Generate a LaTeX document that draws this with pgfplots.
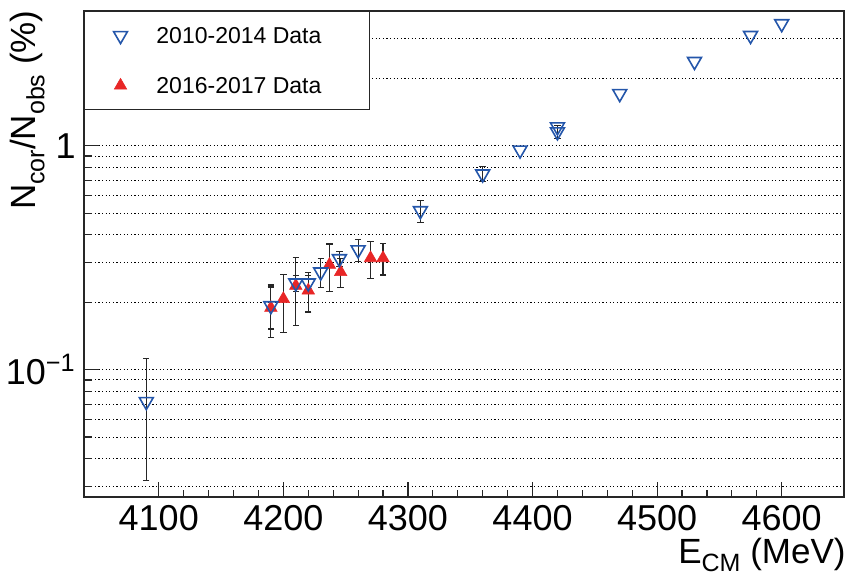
\documentclass[border=0pt]{standalone}
\usepackage{pgfplots}
\pgfplotsset{compat=1.18}
\usepackage{pgfplotstable}
\usepackage{fontspec}
\setmainfont{Liberation Sans}

\definecolor{rootblue}{RGB}{36,86,170}
\definecolor{rootred}{RGB}{232,38,38}

% ROOT-like subscript: smaller and set low
\newcommand{\rsub}[1]{\raisebox{-0.24em}{\fontsize{12.5}{14}\selectfont #1}}

% 2010-2014 data: E (MeV), ratio (%), error
\pgfplotstableread{
E R err
4090 0.072 0.040
4190 0.193 0.041
4210 0.244 0.020
4220 0.244 0.020
4230 0.273 0.040
4245 0.313 0.025
4260 0.343 0.038
4310 0.513 0.058
4360 0.748 0.058
4420 1.154 0.080
}\olddata

% 2010-2014 points whose errors are hidden by the marker
\pgfplotstableread{
E R
4390 0.957
4420 1.215
4470 1.710
4530 2.380
4575 3.110
4600 3.510
}\oldnoerr

% 2016-2017 data
\pgfplotstableread{
E R err
4190 0.189 0.050
4200 0.207 0.060
4210 0.237 0.080
4220 0.226 0.045
4237 0.294 0.070
4246 0.273 0.040
4270 0.315 0.060
4280 0.315 0.050
}\newdata

\begin{document}
\begin{tikzpicture}
\useasboundingbox (0,0) rectangle (424.5pt,287.5pt);
\begin{axis}[
  at={(42pt,39pt)}, anchor=south west,
  scale only axis, width=380pt, height=243pt,
  ymode=log,
  xmin=4040, xmax=4650, ymin=0.027, ymax=4,
  axis line style={line width=0.6pt, black!85},
  tick align=inside, xtick pos=bottom, ytick pos=left,
  xtick={4100,4200,...,4600}, minor x tick num=4,
  ytick={0.1,1}, yticklabels={10\textsuperscript{−1},1},
  minor ytick={0.03,0.04,0.05,0.06,0.07,0.08,0.09,0.2,0.3,0.4,0.5,0.6,0.7,0.8,0.9,2,3,4},
  ymajorgrids, yminorgrids,
  major grid style={black, line width=0.5pt, dash pattern=on 0.55pt off 1.25pt},
  minor grid style={black, line width=0.5pt, dash pattern=on 0.55pt off 1.25pt},
  major tick length=7.5pt, minor tick length=3.75pt,
  tick style={black!85, line width=0.6pt},
  /pgf/number format/assume math mode=true,
  /pgf/number format/1000 sep={},
  ticklabel style={font=\fontsize{18}{21}\selectfont, inner sep=4pt},
  xlabel={E\rsub{CM} (MeV)},
  xlabel style={font=\fontsize{17.5}{20}\selectfont, inner sep=0pt,
    at={(axis description cs:1.0026,-0.1358)}, anchor=base east},
  ylabel={N\rsub{cor}/N\rsub{obs} (\%)},
  ylabel style={font=\fontsize{17.5}{20}\selectfont, inner sep=0pt,
    at={(axis description cs:-0.0632,1.002)}, anchor=base east},
  reverse legend,
  legend cell align=left,
  legend image code/.code={\draw[#1] plot coordinates {(0pt,0pt)};},
  legend style={at={(axis description cs:0,1)}, anchor=north west,
    draw=black!85, line width=0.6pt, fill=white,
    font=\fontsize{11.5}{13}\selectfont,
    inner xsep=14.5pt, inner ysep=8pt, row sep=17pt,
    nodes={inner sep=0pt, text height=8pt, text depth=0pt},
    /tikz/every odd column/.append style={column sep=14.5pt}},
  error bars/error bar style={black!85, line width=0.6pt},
  error bars/error mark options={rotate=90, black!85, line width=0.6pt, mark size=1.6pt},
]
\addplot+[only marks, mark=triangle*, mark size=3.6pt,
  mark options={rootred, fill=rootred, draw=rootred, line width=0.3pt},
  error bars/.cd, y dir=both, y explicit]
  table[x=E, y=R, y error=err]{\newdata};
\addlegendentry{\makebox[92pt][l]{2016-2017 Data}}
\addplot+[only marks, mark=triangle, mark size=4pt,
  mark options={rootblue, draw=rootblue, fill=none, rotate=180, line width=0.8pt},
  error bars/.cd, y dir=both, y explicit]
  table[x=E, y=R, y error=err]{\olddata};
\addlegendentry{\makebox[92pt][l]{2010-2014 Data}}
\addplot+[only marks, mark=triangle, mark size=4pt, forget plot,
  mark options={rootblue, draw=rootblue, fill=none, rotate=180, line width=0.8pt}]
  table[x=E, y=R]{\oldnoerr};
\end{axis}
\end{tikzpicture}
\end{document}
